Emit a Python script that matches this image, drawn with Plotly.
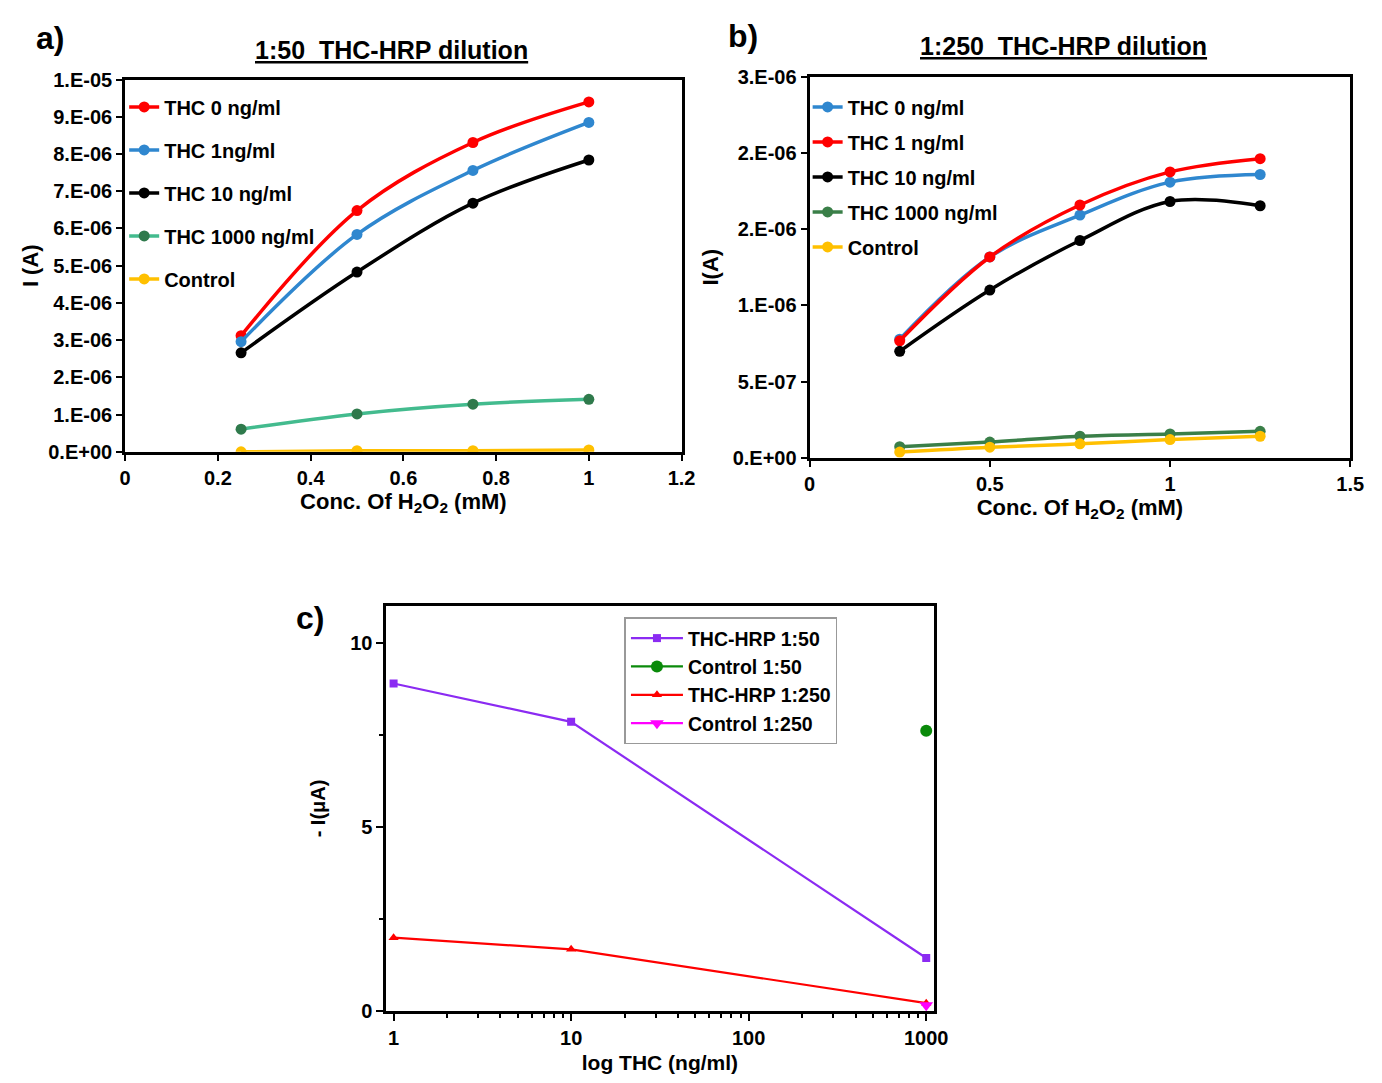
import plotly.graph_objects as go

# ---------------- data ----------------
conc_a = [0.25, 0.5, 0.75, 1.0]
a_thc0 = [3.12e-6, 6.48e-6, 8.31e-6, 9.40e-6]
a_thc1 = [2.96e-6, 5.84e-6, 7.56e-6, 8.85e-6]
a_thc10 = [2.66e-6, 4.83e-6, 6.68e-6, 7.84e-6]
a_thc1000 = [0.61e-6, 1.02e-6, 1.28e-6, 1.41e-6]
a_control = [0.0, 0.03e-6, 0.03e-6, 0.05e-6]

conc_b = [0.25, 0.5, 0.75, 1.0, 1.25]
b_thc0 = [0.778e-6, 1.317e-6, 1.592e-6, 1.808e-6, 1.858e-6]
b_thc1 = [0.767e-6, 1.317e-6, 1.658e-6, 1.875e-6, 1.962e-6]
b_thc10 = [0.698e-6, 1.100e-6, 1.425e-6, 1.681e-6, 1.653e-6]
b_thc1000 = [0.072e-6, 0.103e-6, 0.141e-6, 0.156e-6, 0.173e-6]
b_control = [0.037e-6, 0.069e-6, 0.091e-6, 0.119e-6, 0.141e-6]

thc_c = [1, 10, 1000]
c_hrp50 = [8.89, 7.85, 1.445]
c_ctrl50_x = [1000]
c_ctrl50 = [7.61]
c_hrp250 = [1.995, 1.68, 0.22]
c_ctrl250_x = [1000]
c_ctrl250 = [0.16]

a_yticks = [i * 1e-6 for i in range(11)]
a_yticktext = ["0.E+00", "1.E-06", "2.E-06", "3.E-06", "4.E-06", "5.E-06",
               "6.E-06", "7.E-06", "8.E-06", "9.E-06", "1.E-05"]
a_xticks = [0, 0.2, 0.4, 0.6, 0.8, 1.0, 1.2]
a_xticktext = ["0", "0.2", "0.4", "0.6", "0.8", "1", "1.2"]
b_yticks = [0, 5e-7, 1e-6, 1.5e-6, 2e-6, 2.5e-6]
b_yticktext = ["0.E+00", "5.E-07", "1.E-06", "2.E-06", "2.E-06", "3.E-06"]
b_xticks = [0, 0.5, 1.0, 1.5]
b_xticktext = ["0", "0.5", "1", "1.5"]
c_xticks = [1, 10, 100, 1000]
c_xticktext = ["1", "10", "100", "1000"]
c_yticks = [0, 5, 10]
c_yticktext = ["0", "5", "10"]

# ---------------- figure ----------------
W, H = 1382, 1083
FONT = "Liberation Sans, Arial, sans-serif"


def px_x(p):
    return p / W


def px_y(p):
    return 1 - p / H


RED = "#FF0000"
BLUE = "#2F87CF"
BLACK = "#000000"
YELLOW = "#FFC000"

fig = go.Figure()


def add_ab(x, y, name, lc, mc, xa, ya, leg, grp):
    fig.add_trace(go.Scatter(
        x=x, y=y, name=name, mode="lines+markers",
        line=dict(color=lc, width=3.5, shape="spline", smoothing=1.0),
        marker=dict(color=mc, size=11, symbol="circle"),
        xaxis=xa, yaxis=ya, legend=leg, legendgroup=grp))


add_ab(conc_a, a_thc0, "THC 0 ng/ml", RED, RED, "x", "y", "legend", "a1")
add_ab(conc_a, a_thc1, "THC 1ng/ml", BLUE, BLUE, "x", "y", "legend", "a2")
add_ab(conc_a, a_thc10, "THC 10 ng/ml", BLACK, BLACK, "x", "y", "legend", "a3")
add_ab(conc_a, a_thc1000, "THC 1000 ng/ml", "#43BB8E", "#2F7A4C", "x", "y", "legend", "a4")
add_ab(conc_a, a_control, "Control", YELLOW, YELLOW, "x", "y", "legend", "a5")

add_ab(conc_b, b_thc0, "THC 0 ng/ml", BLUE, BLUE, "x2", "y2", "legend2", "b1")
add_ab(conc_b, b_thc1, "THC 1 ng/ml", RED, RED, "x2", "y2", "legend2", "b2")
add_ab(conc_b, b_thc10, "THC 10 ng/ml", BLACK, BLACK, "x2", "y2", "legend2", "b3")
add_ab(conc_b, b_thc1000, "THC 1000 ng/ml", "#3A7F48", "#3A7F48", "x2", "y2", "legend2", "b4")
add_ab(conc_b, b_control, "Control", YELLOW, YELLOW, "x2", "y2", "legend2", "b5")

# panel c
fig.add_trace(go.Scatter(x=thc_c, y=c_hrp50, name="THC-HRP 1:50", mode="lines+markers",
                         line=dict(color="#8B2BF2", width=2.2),
                         marker=dict(color="#8B2BF2", size=8, symbol="square"),
                         xaxis="x3", yaxis="y3", legend="legend3", legendgroup="c1"))
fig.add_trace(go.Scatter(x=c_ctrl50_x, y=c_ctrl50, name="Control 1:50", mode="lines+markers",
                         line=dict(color="#0A8A0A", width=2.2),
                         marker=dict(color="#0A8A0A", size=12, symbol="circle"),
                         xaxis="x3", yaxis="y3", legend="legend3", legendgroup="c2"))
fig.add_trace(go.Scatter(x=thc_c, y=c_hrp250, name="THC-HRP 1:250", mode="lines+markers",
                         line=dict(color="#FF0000", width=2.2),
                         marker=dict(color="#FF0000", size=9, symbol="triangle-up"),
                         xaxis="x3", yaxis="y3", legend="legend3", legendgroup="c3"))
fig.add_trace(go.Scatter(x=c_ctrl250_x, y=c_ctrl250, name="Control 1:250", mode="lines+markers",
                         line=dict(color="#FF00FF", width=2.2),
                         marker=dict(color="#FF00FF", size=12, symbol="triangle-down"),
                         xaxis="x3", yaxis="y3", legend="legend3", legendgroup="c4"))

tickfont = dict(family=FONT, size=20, color="black", weight="bold")
titlefont = dict(family=FONT, size=22, color="black", weight="bold")

common_ab = dict(showline=True, linecolor="black", linewidth=3, mirror=True,
                 ticks="outside", ticklen=6, tickwidth=2, tickcolor="black",
                 showgrid=False, zeroline=False, tickfont=tickfont)

fig.update_layout(
    width=W, height=H,
    margin=dict(l=0, r=0, t=0, b=0),
    paper_bgcolor="white", plot_bgcolor="white",
    font=dict(family=FONT, color="black"),
    xaxis=dict(domain=[px_x(121), px_x(686)], range=[0, 1.2], anchor="y",
               tickvals=a_xticks, ticktext=a_xticktext,
               title=dict(text="Conc. Of H<sub>2</sub>O<sub>2</sub> (mM)", font=titlefont, standoff=6),
               **common_ab),
    yaxis=dict(domain=[px_y(450), px_y(70)], range=[0, 1e-5], anchor="x",
               tickvals=a_yticks, ticktext=a_yticktext,
               title=dict(text="I (A)", font=titlefont, standoff=4),
               **common_ab),
    xaxis2=dict(domain=[px_x(816), px_x(1365)], range=[0, 1.5], anchor="y2",
                tickvals=b_xticks, ticktext=b_xticktext,
                title=dict(text="Conc. Of H<sub>2</sub>O<sub>2</sub> (mM)", font=titlefont, standoff=6),
                **common_ab),
    yaxis2=dict(domain=[px_y(456), px_y(67)], range=[0, 2.5e-6], anchor="x2",
                tickvals=b_yticks, ticktext=b_yticktext,
                title=dict(text="I(A)", font=titlefont, standoff=8),
                **common_ab),
    xaxis3=dict(domain=[px_x(386), px_x(942)], type="log", range=[-0.042, 3.042], anchor="y3",
                tickvals=c_xticks, ticktext=c_xticktext,
                showline=True, linecolor="black", linewidth=2.5, mirror=True,
                ticks="outside", ticklen=7, tickwidth=2, tickcolor="black",
                minor=dict(ticks="outside", ticklen=4, tickwidth=1.5, tickcolor="black",
                           tickvals=[2, 3, 4, 5, 6, 7, 8, 9, 20, 30, 40, 50, 60, 70, 80, 90,
                                     200, 300, 400, 500, 600, 700, 800, 900], showgrid=False),
                showgrid=False, zeroline=False,
                tickfont=dict(family=FONT, size=20, color="black", weight="bold"),
                title=dict(text="log THC (ng/ml)",
                           font=dict(family=FONT, size=21, color="black", weight="bold"), standoff=8)),
    yaxis3=dict(domain=[px_y(1021), px_y(607)], range=[0, 11], anchor="x3",
                tickvals=c_yticks, ticktext=c_yticktext,
                showline=True, linecolor="black", linewidth=2.5, mirror=True,
                ticks="outside", ticklen=7, tickwidth=2, tickcolor="black",
                minor=dict(ticks="outside", ticklen=4, tickwidth=1.5, tickcolor="black",
                           tickvals=[2.5, 7.5], showgrid=False),
                showgrid=False, zeroline=False,
                tickfont=dict(family=FONT, size=20, color="black", weight="bold"),
                title=dict(text="- I(μA)",
                           font=dict(family=FONT, size=20, color="black", weight="bold"), standoff=20)),
    legend=dict(x=px_x(120), y=px_y(78), xanchor="left", yanchor="top",
                bgcolor="rgba(0,0,0,0)", tracegroupgap=14, itemwidth=30,
                font=dict(family=FONT, size=20, color="black", weight="bold")),
    legend2=dict(x=px_x(814), y=px_y(78), xanchor="left", yanchor="top",
                 bgcolor="rgba(0,0,0,0)", tracegroupgap=6, itemwidth=30,
                 font=dict(family=FONT, size=20, color="black", weight="bold")),
    legend3=dict(x=px_x(628), y=px_y(619), xanchor="left", yanchor="top",
                 bgcolor="white", bordercolor="#999999", borderwidth=1.5,
                 tracegroupgap=0, itemwidth=52,
                 font=dict(family=FONT, size=19.5, color="black", weight="bold")),
)

annos = [
    dict(text="<b>a)</b>", x=px_x(28), y=px_y(28), xanchor="left", yanchor="middle", size=32),
    dict(text="<b>b)</b>", x=px_x(731), y=px_y(26), xanchor="left", yanchor="middle", size=32),
    dict(text="<b>c)</b>", x=px_x(292), y=px_y(620), xanchor="left", yanchor="middle", size=32),
    dict(text="<b><u>1:50  THC-HRP dilution</u></b>", x=px_x(391), y=px_y(40), xanchor="center", yanchor="middle", size=25),
    dict(text="<b><u>1:250  THC-HRP dilution</u></b>", x=px_x(1074), y=px_y(36), xanchor="center", yanchor="middle", size=25),
]
for a in annos:
    fig.add_annotation(text=a["text"], x=a["x"], y=a["y"], xref="paper", yref="paper",
                       xanchor=a["xanchor"], yanchor=a["yanchor"], showarrow=False,
                       font=dict(family=FONT, size=a["size"], color="black"))

fig.write_html("out.html")
